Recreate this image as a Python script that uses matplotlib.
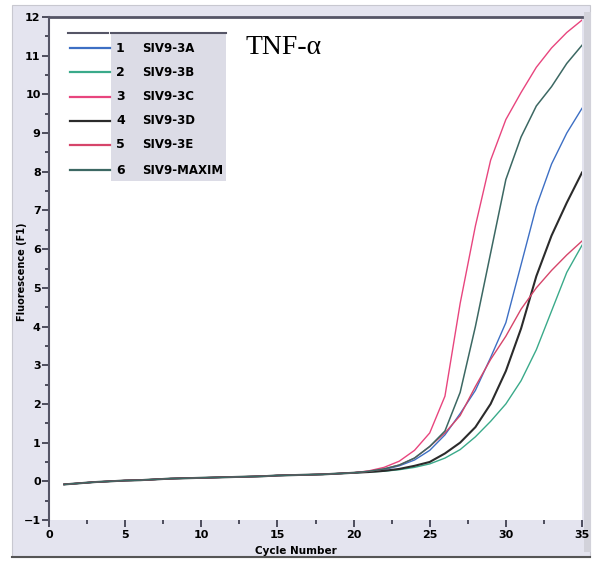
#!/usr/bin/env python3
# TNF-alpha amplification curves (qPCR), six samples

import matplotlib
matplotlib.use("Agg")
import matplotlib.pyplot as plt
from matplotlib.patches import Rectangle
from matplotlib.ticker import MultipleLocator

cycles = list(range(1, 36))

# common baseline, cycles 1..19
base = [-0.08, -0.05, -0.02, 0.0, 0.02, 0.03, 0.05, 0.07, 0.08, 0.09,
        0.1, 0.11, 0.12, 0.13, 0.15, 0.16, 0.17, 0.18, 0.2]

# cycles 20..35
tail_3a = [0.22, 0.25, 0.3, 0.4, 0.55, 0.8, 1.2, 1.75, 2.35, 3.2, 4.1, 5.6, 7.1, 8.2, 9.0, 9.64]
tail_3b = [0.22, 0.24, 0.26, 0.3, 0.36, 0.45, 0.6, 0.82, 1.15, 1.55, 2.0, 2.6, 3.4, 4.4, 5.4, 6.1]
tail_3c = [0.22, 0.27, 0.36, 0.52, 0.8, 1.25, 2.2, 4.6, 6.6, 8.3, 9.35, 10.05, 10.7, 11.2, 11.6, 11.92]
tail_3d = [0.22, 0.24, 0.27, 0.32, 0.4, 0.5, 0.72, 1.0, 1.4, 2.0, 2.85, 3.95, 5.3, 6.35, 7.2, 7.98]
tail_3e = [0.22, 0.26, 0.32, 0.42, 0.6, 0.9, 1.25, 1.7, 2.45, 3.15, 3.75, 4.45, 5.0, 5.45, 5.85, 6.21]
tail_mx = [0.22, 0.26, 0.32, 0.42, 0.6, 0.9, 1.3, 2.3, 4.0, 5.9, 7.8, 8.9, 9.7, 10.2, 10.8, 11.27]

numeros = ["1", "2", "3", "4", "5", "6"]
nombres = ["SIV9-3A", "SIV9-3B", "SIV9-3C", "SIV9-3D", "SIV9-3E", "SIV9-MAXIM"]
series = [base + tail_3a, base + tail_3b, base + tail_3c,
          base + tail_3d, base + tail_3e, base + tail_mx]
colores = ["#3d6fc4", "#3aaa8a", "#e8457e", "#2b2b2b", "#d6456a", "#3c6863"]
grosores = [1.0, 1.0, 1.0, 1.5, 1.0, 1.1]

W, H = 599, 564
fuente = ["Liberation Sans Narrow", "DejaVu Sans"]

fig = plt.figure(figsize=(W / 100, H / 100), dpi=100)
fig.patch.set_facecolor("white")

# panel background and frame (behind the axes)
fig.patches.append(Rectangle((12 / W, 1 - 557 / H), 578 / W, 552 / H,
                             transform=fig.transFigure, facecolor="#e4e4ef",
                             edgecolor="#c8c8d0", lw=0.8, zorder=-10))
fig.patches.append(Rectangle((584 / W, 1 - 552 / H), 7 / W, 540 / H,
                             transform=fig.transFigure, facecolor="#d2d2da",
                             edgecolor="none", zorder=-9))
fig.lines.append(plt.Line2D([12 / W, 590 / W], [1 - 557 / H, 1 - 557 / H],
                            transform=fig.transFigure, color="#555555", lw=1.5,
                            zorder=-8))

ax = fig.add_axes([49 / W, 1 - 520 / H, 533 / W, 503 / H])
ax.set_facecolor("white")

for y, c, g in zip(series, colores, grosores):
    ax.plot(cycles, y, color=c, lw=g, solid_joinstyle="round")

ax.set_xlim(0, 35)
ax.set_ylim(-1, 12)
ax.xaxis.set_major_locator(MultipleLocator(5))
ax.xaxis.set_minor_locator(MultipleLocator(2.5))
ax.yaxis.set_major_locator(MultipleLocator(1))
ax.yaxis.set_minor_locator(MultipleLocator(0.5))

for s in ["right", "bottom"]:
    ax.spines[s].set_visible(False)
ax.spines["left"].set_color("#555566")
ax.spines["left"].set_linewidth(1.5)
ax.spines["top"].set_color("#555566")
ax.spines["top"].set_linewidth(2)

ax.tick_params(axis="both", which="major", direction="out", length=5,
               width=1.2, color="#333344")
ax.tick_params(axis="both", which="minor", direction="out", length=3,
               width=1.2, color="#333344")
ax.tick_params(axis="x", which="both", pad=2)
ax.tick_params(axis="y", which="both", pad=1)
for lab in ax.get_xticklabels() + ax.get_yticklabels():
    lab.set_family(fuente)
    lab.set_fontweight("bold")
    lab.set_fontsize(8)

# manual legend, pixel positions converted to axes fractions
def fx(px):
    return (px - 49) / 533

def fy(py):
    return (520 - py) / 503

ax.set_xlabel("Cycle Number", family=fuente, fontweight="bold", fontsize=7.5)
ax.set_ylabel("Fluorescence (F1)", family=fuente, fontweight="bold", fontsize=7)
ax.xaxis.set_label_coords(fx(296), fy(551))
ax.yaxis.set_label_coords(fx(22), fy(272))
ax.xaxis.label.set_va("center")
ax.yaxis.label.set_va("center")

ax.add_patch(Rectangle((fx(111), fy(181)), fx(226) - fx(111), fy(34) - fy(181),
                       transform=ax.transAxes, facecolor="#dcdce6",
                       edgecolor="none", zorder=3))
for x0, x1 in [(68, 108), (111, 133), (135, 226)]:
    ax.plot([fx(x0), fx(x1)], [fy(33), fy(33)], transform=ax.transAxes,
            color="#555566", lw=1.5, zorder=4, clip_on=False)

filas = [48, 72, 97, 121, 145, 170]
for py, num, nom, c in zip(filas, numeros, nombres, colores):
    ax.plot([fx(70), fx(110)], [fy(py), fy(py)], transform=ax.transAxes,
            color=c, lw=1.6, zorder=4)
    ax.text(fx(116), fy(py), num, transform=ax.transAxes, va="center",
            ha="left", fontsize=9, fontweight="bold", family=fuente, zorder=5)
    ax.text(fx(142), fy(py), nom, transform=ax.transAxes, va="center",
            ha="left", fontsize=8.5, fontweight="bold", family=fuente, zorder=5)

ax.text(fx(245), fy(47), "TNF-\u03b1", transform=ax.transAxes, va="center",
        ha="left", fontsize=20, family=["Liberation Serif", "DejaVu Serif"])

fig.savefig("out.png", dpi=100)
